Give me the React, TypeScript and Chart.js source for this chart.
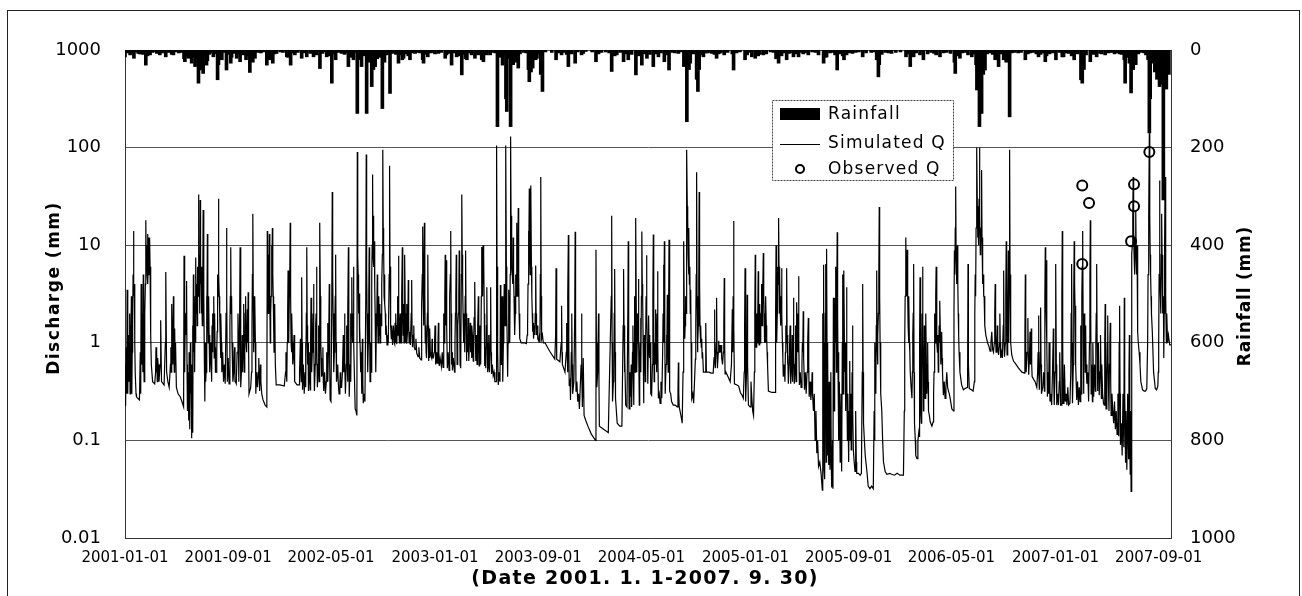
import React, { useEffect, useRef } from "react";
import { Chart, registerables } from "chart.js";

Chart.register(...registerables);

// ---------- DATA ----------
const START_DATE = "2001-01-01";
const END_DATE = "2007-09-30";
const X_TICK_LABELS = [
  "2001-01-01", "2001-09-01", "2002-05-01", "2003-01-01", "2003-09-01", "2004-05-01",
  "2005-01-01", "2005-09-01", "2006-05-01", "2007-01-01", "2007-09-01",
];
const Q_TICKS = [0.01, 0.1, 1, 10, 100, 1000];
const Q_TICK_LABELS = ["0.01", "0.1", "1", "10", "100", "1000"];
const RAIN_TICKS = [0, 200, 400, 600, 800, 1000];

// Simulated discharge (mm): [day since 2001-01-01, Q]
const SIM_SEG_1: [number, number][] = [
  [0,0.23],[1,0.6],[2,0.25],[3,0.9],[4,0.3],[5,3.5],[6,0.6],[7,0.3],[8,1.2],[9,0.4],[10,0.6],[11,2],[12,0.3],[13,1.5],[14,0.9],[15,3],[16,0.3],[17,0.8],[18,1.5],[19,5],[20,14],[21,3],[22,4],[23,1],[24,0.5],[26,0.3],[27,0.28],[30,0.27],[34,0.26],[36,0.8],[37,0.3],[38,4],[39,1],[40,0.6],[41,2],[42,0.5],[43,5],[44,1],[45,0.4],[46,1],[47,2],[48,4],[49,18],[50,6],[51,10],[52,5],[53,13],[54,4],[55,7],[56,12],[57,5],[58,12],[59,6],[60,3],[61,1.2],[62,0.6],[65,0.4],[70,0.38],[72,0.5],[73,0.9],[74,0.5],[75,0.8],[76,0.4],[77,0.7],[78,0.6],[80,0.4],[83,0.6],[84,1.7],[86,0.4],[92,0.37],[95,1],[96,5.3],[98,0.5],[101,0.4],[104,0.35],[107,0.6],[108,0.9],[109,0.5],[110,2.5],[111,0.8],[112,0.6],[113,1],[114,3],[115,0.8],[116,0.5],[117,1.4],[118,0.6],[119,1.0],[121,0.35],[125,0.3],[130,0.28],[134,0.25],[138,0.22],[139,7.8],[140,1.5],[141,0.5],[142,2],[143,1.2],[144,2],[145,4.3],[146,0.6],[147,0.2],[149,0.5],[150,0.16],[151,0.8],[152,0.5],[153,0.13],[154,1],[155,0.3],[156,0.6],[157,0.105],[158,0.4],[159,1.5],[160,0.12],[161,5],[162,0.8],[163,2],[164,0.5],[165,3],[166,1],[167,7.5],[168,2],[169,4],[170,1.5],[171,6],[172,3],[173,33],[174,3],[175,8],[176,2],[177,29],[178,4],[179,6],[180,2],[181,4],[182,1.5],[183,3],[184,23],[185,2],[186,3],[187,0.6],[188,0.25],[189,1],[190,0.4],[191,0.5],[192,3],[193,1],[194,13],[195,2],[196,1],[197,3],[198,1.2],[199,0.7],[200,0.5],[202,1],[204,0.4],[205,1.5],[206,0.8],[207,2],[208,1.4],[209,3],[210,0.7],[211,2],[212,0.9],[213,0.5],[215,0.5],[216,0.8],[217,1.3],[218,5],[219,3],[220,30],[221,5],[222,3],[223,2],[224,1.2],[225,0.7],[226,2],[227,1],[228,0.5],[230,0.8],[232,0.4],[234,0.6],[236,0.38],[238,2],[239,15],[240,3],[241,0.4],[243,0.7],[245,0.38],[247,1.5],[248,3],[249,9.5],[250,2],[251,3],[252,1],[254,0.4],[256,0.5],[258,0.9],[259,0.4],[260,0.4],[262,0.38],[264,0.8],[266,2],[267,1],[268,0.4],[270,2],[271,9.5],[272,1],[273,0.35],[275,0.6],[276,1.2],[277,0.5],[278,1],[279,2.5],[280,1],[281,0.5],[282,1],[283,2],[284,3],[285,1],[286,1.5],[287,0.8],[288,2.2],[289,1],[290,3.3],[291,1],[292,0.3],[294,0.3],[296,0.35],[298,0.5],[299,1.5],[300,5],[301,21],[302,3],[303,0.8],[304,1.5],[305,1],[306,3],[307,1],[308,0.3],[310,0.5],[312,0.35],[314,0.5],[315,0.7],[317,0.32],[319,0.6],[320,0.4],[322,0.3],[325,0.26],[330,0.23],[334,0.22],[335,14],[336,4],[337,2],[338,8],[339,3],[340,13],[341,3],[342,1],[343,2],[344,3],[345,10],[346,4],[347,15],[348,5],[349,3],[350,1.5],[351,0.8],[352,1.2],[353,2.5],[354,0.6],[356,0.37],[365,0.37],[375,0.36],[378,0.5],[379,0.8],[380,0.5],[381,0.4],[382,1],[383,2],[384,5.5],[385,2],[386,1],[387,3],[388,5],[389,17],[390,3],[391,1],[392,0.8],[393,2],[394,1],[395,0.6],[397,0.8],[398,1.2],[399,0.5],[400,0.4],[405,0.37],[410,0.37],
];
const SIM_SEG_2: [number, number][] = [
  [411,0.5],[413,1.1],[414,0.5],[415,0.4],[416,4.7],[417,1],[418,0.33],[420,0.6],[422,0.3],[424,0.5],[425,1],[426,0.35],[427,2],[428,9.5],[429,1.5],[430,0.6],[431,1],[432,0.32],[434,0.5],[435,0.8],[436,0.33],[437,1],[438,2.9],[439,1],[440,0.5],[441,0.8],[442,1.2],[443,2],[444,4],[445,1],[446,0.32],[448,0.6],[449,1.5],[450,2],[451,6],[452,1],[453,0.35],[455,0.6],[456,1.5],[457,0.4],[458,3],[459,17],[460,3],[461,1],[462,0.7],[463,0.45],[465,0.5],[466,0.9],[467,0.4],[468,0.32],[470,0.5],[472,0.3],[474,0.4],[475,0.8],[476,0.5],[477,1.6],[478,0.4],[479,0.8],[480,1.5],[481,4],[482,0.6],[483,0.26],[485,0.25],[487,3],[488,35],[489,5],[490,2],[491,1],[492,0.5],[493,0.8],[494,1.5],[495,3],[496,8],[497,1],[498,0.4],[500,0.5],[501,0.6],[502,0.4],[504,0.3],[506,0.4],[507,0.5],[508,0.35],[510,0.35],[512,0.5],[514,1.2],[515,0.5],[516,0.8],[517,2],[518,0.6],[519,0.3],[521,0.6],[522,1.5],[523,0.8],[524,0.4],[525,2],[526,9.5],[527,1],[528,0.28],[530,0.6],[531,2],[532,0.4],[533,1.5],[534,4.7],[535,1.5],[536,1],[537,2],[538,6],[539,1],[540,0.5],[542,0.21],[544,0.2],[546,0.18],[547,90],[548,8],[549,5],[550,2],[551,3.2],[552,1],[553,1.5],[554,0.8],[555,0.5],[556,0.8],[557,0.3],[558,0.5],[559,1.1],[560,0.4],[561,0.24],[563,0.3],[565,0.25],[567,3],[568,85],[569,6],[570,2],[571,1],[572,0.5],[573,1],[574,3],[575,9.5],[576,1.5],[577,0.4],[578,1],[579,0.6],[580,0.5],[581,5],[582,10],[583,53],[584,8],[585,20],[586,6],[587,11],[588,4],[589,2],[590,1],[591,0.5],[592,1.5],[593,2],[594,5],[595,2],[596,1],[597,2],[598,3],[599,1.2],[600,2.5],[601,1],[602,2],[603,1.5],[604,2],[605,4],[606,8],[607,95],[608,15],[609,10],[610,3],[611,5],[612,2.5],[613,2],[614,1.2],[615,1.5],[617,0.95],[619,1.2],[620,1],[622,5],[623,65],[624,6],[625,3],[626,1.5],[627,1.1],[628,1.5],[630,0.95],[632,1.5],[634,1],[635,0.97],[636,1.6],[637,1],[638,2],[639,1.1],[640,0.97],[641,1.5],[642,3],[643,1.2],[644,7.8],[645,2],[646,1],[647,1.5],[648,2],[649,1.2],[650,1],[651,1.8],[652,3],[653,9.5],[654,2],[655,1.2],[656,2.5],[657,1],[658,2],[659,8],[660,2],[661,1],[662,1.5],[663,2.5],[664,0.98],[666,1.5],[667,4.4],[668,1.5],[669,1],[670,1.3],[672,0.95],[674,2],[675,4.4],[676,1.2],[677,0.9],[679,1.2],[680,1.5],[681,0.9],[683,0.85],[685,1.1],[687,0.78],[690,0.72],[692,0.9],[694,0.7],[697,0.67],[698,1.2],[699,2.5],[700,5],[701,15.5],[702,3],[703,1.5],[704,4],[705,17],[706,3],[707,1],[708,1.5],[709,0.8],[710,0.7],[712,2],[713,8],[714,1.5],[715,0.65],[716,0.8],[717,0.7],[718,1.4],[719,0.8],[720,0.75],[722,0.7],[723,1.1],[724,0.7],[726,0.7],[728,0.8],[729,1],[730,1.5],[731,0.8],[732,0.6],[734,0.8],[735,0.62],[737,1],[738,1.6],[739,0.7],[740,0.58],[742,0.7],[745,0.57],[747,0.8],[749,0.56],[750,1],[751,2],[752,1],[753,3],[754,8],[755,1.5],[756,3],[757,7],[758,1.5],[759,0.55],[761,0.8],[763,0.52],[764,1.2],[765,3],[766,5],[767,14],[768,2],[769,0.6],[770,0.8],[771,0.52],[773,0.7],[776,0.5],[777,1],[778,2],[779,3],[780,8],[781,2],[782,0.6],[783,1],[784,1.5],[785,2],[786,3],[787,8.8],[788,2],[789,0.6],[790,1],[791,0.55],[792,5],[793,33],[794,8],[795,4],[796,2],[797,1],[798,1.5],[799,2],[800,0.8],[801,3],[802,8.8],[803,2],[804,0.65],[805,1],[806,1.2],[807,0.8],[808,1.8],[809,1],[810,0.65],[811,1],[812,1.2],[813,1.6],[814,0.8],[815,1.2],[816,0.7],[817,1.5],[818,1.2],[819,0.8],[820,0.65],[821,1],[822,1.8],[823,2],[824,4.2],
];
const SIM_SEG_3: [number, number][] = [
  [825,1],[826,0.65],[827,1.2],[828,0.8],[829,0.6],[830,1],[831,1.5],[832,3],[833,1],[834,0.58],[835,0.9],[836,1.5],[837,0.8],[838,0.6],[839,3],[840,9.6],[841,4],[842,3],[843,10],[844,4],[845,8],[846,2],[847,0.58],[848,0.9],[849,0.6],[850,0.55],[851,1.5],[852,3.7],[853,1],[854,0.5],[855,0.8],[856,1.2],[857,0.6],[858,0.5],[860,1.2],[861,3.7],[862,0.8],[863,0.48],[865,0.6],[867,0.46],[869,0.5],[871,0.4],[874,0.4],[875,105],[876,6],[877,3],[878,0.8],[879,0.37],[881,0.5],[883,0.4],[884,3.9],[885,1.2],[886,0.6],[887,1.5],[888,3],[889,1],[890,0.4],[891,1],[892,2],[893,4],[894,2],[895,1.5],[896,4],[897,105],[898,6],[899,2],[900,1],[901,0.45],[902,1],[903,2],[904,3.5],[905,1.5],[906,1],[907,5],[908,130],[909,20],[910,16],[911,6],[912,5],[913,4],[914,12],[915,5],[916,3],[917,2],[918,1.2],[919,2],[920,5],[921,3],[922,17],[923,5],[924,3],[925,8],[926,24],[927,5],[928,2],[929,1.5],[930,1.1],[933,1.0],[940,1.0],[945,0.98],[947,1.2],[948,1.5],[949,4],[950,14],[951,6],[952,38],[953,8],[954,5],[955,10],[956,41],[957,6],[958,3],[959,2],[960,1.3],[961,1.6],[962,1.1],[964,1.5],[965,1.2],[966,2],[967,6.2],[968,2],[969,1.2],[971,1.5],[972,1.1],[974,1.05],[976,1.2],[977,1.0],[978,5],[979,50],[980,3],[981,1.1],[983,1.2],[985,1.0],[989,1.0],[1000,0.82],[1012,0.68],[1014,1.2],[1015,5.8],[1016,1],[1017,0.68],[1024,0.64],[1027,1],[1028,2.4],[1029,0.8],[1030,0.6],[1036,0.5],[1039,0.8],[1040,1.6],[1041,0.8],[1042,0.5],[1043,3],[1044,12.7],[1045,1],[1046,0.36],[1048,0.4],[1049,0.26],[1051,0.8],[1052,2],[1053,0.6],[1054,0.3],[1057,0.4],[1059,2],[1060,13.7],[1061,1.5],[1062,0.32],[1064,0.4],[1066,0.25],[1068,0.3],[1070,0.21],[1074,0.6],[1075,2],[1076,0.5],[1077,0.22],[1079,0.7],[1081,0.18],[1085,0.16],[1090,0.14],[1098,0.116],[1108,0.1],[1109,9],[1110,1],[1111,0.35],[1113,0.5],[1115,2],[1116,0.4],[1117,0.14],[1127,0.13],[1138,0.12],[1145,3],[1146,20],[1147,1],[1148,0.25],[1150,0.4],[1151,0.5],[1152,2],[1153,5.7],[1154,0.8],[1155,0.27],[1159,0.15],[1165,0.14],[1170,0.14],[1173,1.5],[1174,5.7],[1175,1.5],[1176,0.5],[1177,0.8],[1179,0.23],[1182,0.22],[1184,2],[1185,11],[1186,1],[1187,0.21],[1189,0.5],[1190,0.28],[1192,0.6],[1193,0.22],[1195,0.8],[1196,1.5],[1197,0.5],[1198,0.23],[1199,1],[1200,3],[1201,0.5],[1202,4],[1203,19],[1204,2],[1205,0.5],[1206,1],[1207,2],[1208,1],[1209,4.5],[1210,1],[1211,0.23],[1212,0.6],[1213,1],[1214,1.8],[1215,0.5],[1216,3],[1217,13.8],[1218,4],[1219,2.8],[1220,1],[1221,0.24],[1222,0.6],[1223,1.2],[1224,0.6],[1225,0.4],[1226,1],[1227,3],[1228,7.9],[1229,2],[1230,1],[1231,0.38],[1232,0.8],[1233,1.9],[1234,0.8],[1235,1.2],[1236,0.7],
];
const SIM_SEG_4: [number, number][] = [
  [1237,1],[1238,0.3],[1240,0.29],[1242,0.6],[1243,3],[1244,12.9],[1245,1.5],[1246,0.4],[1247,0.7],[1248,1],[1249,0.6],[1250,2.2],[1251,0.8],[1252,0.5],[1253,2],[1254,5.4],[1255,1],[1256,0.27],[1258,0.3],[1260,0.24],[1262,0.4],[1264,0.27],[1266,0.8],[1267,2],[1268,6.3],[1269,1],[1270,11],[1271,1.5],[1272,0.3],[1274,0.6],[1275,1.2],[1276,0.6],[1277,3.1],[1278,1],[1279,0.5],[1280,2],[1281,11.4],[1282,1.5],[1283,0.32],[1285,0.3],[1287,0.25],[1291,0.23],[1296,0.23],[1300,0.22],[1302,0.3],[1303,0.63],[1304,0.3],[1305,0.22],[1309,0.18],[1312,0.15],[1314,0.5],[1315,2],[1316,11],[1317,2],[1318,1.1],[1319,1.5],[1320,3],[1321,2],[1322,6],[1323,95],[1324,25],[1325,19],[1326,8],[1327,5],[1328,15],[1329,4],[1330,6],[1331,2],[1332,3.5],[1333,1],[1334,0.5],[1335,0.27],[1337,0.3],[1339,0.24],[1341,0.4],[1343,0.68],[1344,1.5],[1345,5],[1346,56],[1347,3],[1348,0.8],[1349,1],[1350,1.5],[1351,4],[1352,35],[1353,4],[1354,1.4],[1355,1],[1356,1.5],[1357,0.9],[1358,1.1],[1359,0.7],[1360,0.8],[1362,0.5],[1366,0.5],[1367,0.7],[1368,1.6],[1369,0.5],[1375,0.5],[1380,0.49],[1385,0.49],[1387,0.7],[1388,2.2],[1389,0.7],[1390,0.55],[1392,1],[1393,2.9],[1394,0.8],[1395,0.55],[1397,0.8],[1398,1.05],[1399,0.8],[1401,0.95],[1402,0.8],[1404,0.95],[1405,0.7],[1407,0.6],[1409,0.8],[1410,1.5],[1411,4.6],[1412,1],[1413,0.48],[1415,0.5],[1420,0.45],[1425,0.4],[1428,0.6],[1430,2.2],[1431,0.8],[1432,3],[1433,17.7],[1434,1.5],[1435,0.38],[1441,0.37],[1445,0.36],[1449,0.31],[1453,0.29],[1456,0.27],[1458,0.5],[1459,1.5],[1460,5.8],[1461,0.8],[1462,0.25],[1464,0.6],[1465,3.1],[1466,0.6],[1468,0.23],[1472,0.22],[1474,0.4],[1476,0.27],[1478,0.2],[1480,0.18],[1482,0.5],[1483,2],[1484,8],[1485,2],[1486,0.9],[1487,1.2],[1488,2],[1489,1],[1490,2],[1491,5.4],[1492,1.5],[1493,0.95],[1494,1.5],[1495,2.5],[1496,1],[1497,1.5],[1498,2],[1499,4],[1500,1.5],[1501,3.3],[1502,3],[1503,8.3],[1504,3],[1505,2],[1506,1],[1507,1.6],[1508,1],[1509,3],[1510,1.5],[1511,1.1],[1512,0.8],[1513,0.6],[1515,0.32],[1523,0.31],[1531,0.31],[1532,2],[1533,10],[1534,3],[1535,1],[1536,2],[1537,6],[1538,4],[1539,19],[1540,6],[1541,2],[1542,5],[1543,2],[1544,1.5],[1545,3],[1546,5.8],[1547,2],[1548,1],[1549,0.7],[1550,0.45],[1552,0.6],[1554,0.4],[1555,0.8],[1556,1.5],[1557,1],[1558,5.8],[1559,1.2],[1560,0.6],[1561,0.8],[1562,0.38],[1564,0.6],[1566,1.5],[1567,0.6],[1568,0.38],[1570,0.6],[1571,1.2],[1572,0.4],[1573,1],[1574,2.9],[1575,0.8],[1576,0.38],[1578,0.6],[1579,1.5],[1580,0.4],[1581,1],[1582,2.6],[1583,1.2],[1584,0.8],[1585,2],[1586,4.8],[1587,1],[1588,0.37],[1590,0.5],[1592,0.35],[1594,0.6],[1595,1],[1596,0.8],[1597,2.1],[1598,0.7],[1600,0.33],[1602,0.5],[1604,0.3],[1606,0.5],[1607,0.8],[1608,1],[1609,1.8],[1610,0.6],[1611,0.28],[1613,0.4],[1615,0.26],[1617,0.35],[1618,0.5],[1619,0.3],[1621,0.2],[1623,0.3],[1625,0.1],[1627,0.2],[1629,0.074],[1631,0.1],[1633,0.054],[1636,0.06],[1639,0.046],[1642,0.031],[1643,2],[1644,1],[1645,6.3],
];
const SIM_SEG_5: [number, number][] = [
  [1646,0.05],[1647,1],[1648,0.04],[1649,2],[1650,6.4],[1651,0.06],[1652,9.2],[1653,1],[1654,0.07],[1655,0.8],[1656,0.1],[1657,0.056],[1658,0.4],[1660,0.05],[1661,0.2],[1662,0.5],[1663,0.06],[1664,0.033],[1666,0.1],[1667,0.032],[1668,2.9],[1669,0.5],[1670,0.2],[1671,1],[1672,2.9],[1673,1],[1674,6],[1675,0.5],[1676,3],[1677,13.6],[1678,2],[1679,0.5],[1680,0.8],[1681,0.1],[1682,0.4],[1684,0.06],[1685,0.15],[1686,0.3],[1687,0.1],[1688,0.048],[1689,1],[1690,5],[1691,0.3],[1692,2],[1693,5.5],[1694,1],[1695,0.5],[1696,1],[1697,0.2],[1698,1],[1699,3.7],[1700,0.5],[1701,0.1],[1702,0.3],[1704,0.06],[1705,0.2],[1706,0.1],[1707,0.65],[1708,0.1],[1709,0.3],[1710,0.08],[1711,0.1],[1712,0.5],[1713,1.5],[1714,0.2],[1715,0.08],[1717,0.06],[1719,0.048],[1720,0.08],[1721,0.2],[1722,0.06],[1723,0.046],[1727,0.046],[1731,0.044],[1734,0.046],[1736,0.5],[1737,4],[1738,0.5],[1739,0.15],[1741,0.1],[1743,0.07],[1747,0.048],[1750,0.034],[1754,0.032],[1758,0.034],[1762,0.032],[1764,0.2],[1765,0.1],[1766,1],[1767,0.4],[1768,0.3],[1769,1.5],[1770,5.5],[1771,1],[1772,0.6],[1773,1.2],[1774,2],[1775,5],[1776,24.6],[1777,3],[1778,1],[1779,0.5],[1780,0.3],[1782,0.2],[1784,0.1],[1786,0.06],[1790,0.048],[1794,0.045],[1801,0.046],[1805,0.045],[1812,0.044],[1818,0.046],[1825,0.044],[1833,0.044],[1835,0.2],[1836,1],[1837,3],[1838,5],[1839,12],[1840,4],[1841,3],[1842,9],[1843,3],[1844,1.5],[1845,1],[1846,3],[1847,1],[1848,0.8],[1849,0.5],[1851,0.35],[1853,0.27],[1854,0.5],[1855,1.2],[1856,2],[1857,6.4],[1858,0.5],[1859,0.15],[1861,0.1],[1862,0.07],[1865,0.065],[1867,0.1],[1869,0.12],[1870,0.11],[1871,1],[1872,4.7],[1873,0.6],[1874,0.2],[1875,0.15],[1876,0.5],[1877,2],[1878,6],[1879,1],[1880,0.2],[1881,0.5],[1882,1.5],[1883,0.6],[1884,0.27],[1885,0.6],[1886,2],[1887,0.6],[1888,0.3],[1889,0.5],[1890,1],[1891,0.4],[1892,0.2],[1894,0.18],[1896,0.155],[1900,0.14],[1903,0.155],[1904,0.3],[1905,0.5],[1906,1],[1907,2],[1908,1],[1909,3],[1910,6],[1911,2],[1912,1],[1913,0.8],[1914,1.2],[1915,0.5],[1916,0.8],[1917,1.5],[1918,1],[1919,2.7],[1920,1.2],[1921,0.6],[1922,0.9],[1923,1.3],[1924,0.7],[1925,0.5],[1927,0.29],[1929,0.4],[1931,0.27],[1933,0.35],[1935,0.5],[1937,0.35],[1939,0.32],[1941,0.3],[1943,0.27],[1947,0.21],[1951,0.2],[1952,2],[1953,8.8],[1954,5],[1955,15],[1956,40],[1957,8],[1958,4],[1959,6],[1960,10],[1961,4],[1962,2],[1963,1.2],[1964,0.8],[1966,0.5],[1970,0.37],[1974,0.33],[1978,0.34],[1984,0.35],[1985,6.4],[1986,0.6],[1988,0.34],[1993,0.33],[1997,0.32],[2000,0.4],[2001,2],[2002,5],[2003,3],[2004,15],[2005,20],[2006,100],[2007,25],[2008,12],[2009,14],[2010,10],[2011,30],[2012,100],[2013,20],[2014,8],[2015,10],[2016,15],[2017,59],[2018,12],[2019,8],[2020,4],[2021,5],[2022,3],[2023,3],[2024,2],[2025,1.5],[2027,1.2],[2029,1.1],[2031,1],[2033,0.95],[2035,0.9],[2037,0.82],[2039,1],[2041,1.3],[2043,0.85],[2045,0.8],[2047,1],[2048,2],[2049,4],[2050,1.2],[2051,0.8],[2053,1],[2054,1.5],[2055,0.9],[2057,0.75],
];
const SIM_SEG_6: [number, number][] = [
  [2059,1],[2060,2],[2061,1],[2062,0.7],[2064,0.8],[2066,0.7],[2068,1.5],[2069,5.5],[2070,1],[2071,0.72],[2073,1],[2074,3],[2075,11],[2076,2],[2077,0.75],[2078,1],[2079,2],[2080,8.8],[2081,1],[2082,8],[2083,95],[2084,5],[2085,1.3],[2086,1],[2088,0.75],[2092,0.65],[2096,0.62],[2104,0.55],[2112,0.5],[2118,0.49],[2119,1.2],[2120,5],[2121,0.8],[2122,0.5],[2124,0.8],[2126,1.8],[2127,0.7],[2128,0.47],[2130,0.8],[2131,1.3],[2132,0.6],[2134,1.4],[2135,0.6],[2136,0.45],[2140,0.42],[2143,0.4],[2147,0.35],[2149,0.5],[2150,0.8],[2151,1.9],[2152,0.5],[2153,0.33],[2155,0.8],[2156,2.3],[2157,0.6],[2158,0.3],[2161,0.35],[2163,0.5],[2165,0.32],[2166,3],[2167,9.5],[2168,3],[2169,2],[2170,7],[2171,1],[2172,0.28],[2174,0.5],[2175,0.3],[2176,1],[2178,0.25],[2180,0.3],[2182,0.23],[2184,0.5],[2186,1.4],[2187,0.4],[2188,0.23],[2190,0.5],[2191,2],[2192,6.4],[2193,0.6],[2194,0.23],[2196,0.3],[2198,0.23],[2200,0.4],[2201,0.8],[2203,0.23],[2205,0.23],[2206,3],[2207,14],[2208,1],[2209,0.24],[2211,0.3],[2212,0.6],[2214,0.25],[2216,0.3],[2218,0.23],[2220,0.35],[2222,0.23],[2225,0.24],[2227,0.5],[2228,2],[2229,6.4],[2230,1],[2231,0.24],[2233,0.6],[2234,3],[2235,11],[2236,4],[2237,2.4],[2238,1],[2239,0.6],[2241,0.26],[2243,0.4],[2245,0.23],[2247,0.35],[2249,0.25],[2250,0.6],[2251,1.5],[2252,0.3],[2253,3],[2254,6],[2255,14],[2256,2],[2257,0.3],[2258,1],[2259,2],[2260,1],[2261,0.5],[2262,1.5],[2263,0.6],[2265,0.38],[2267,0.5],[2269,0.25],[2271,1],[2272,4],[2273,18],[2274,2],[2275,0.3],[2276,0.6],[2278,0.25],[2279,1],[2280,0.5],[2281,0.28],[2283,0.6],[2285,0.32],[2286,1],[2287,2],[2288,6.4],[2289,1],[2290,0.32],[2291,0.6],[2292,1],[2294,0.29],[2296,0.5],[2297,1.2],[2299,0.27],[2300,0.6],[2302,0.3],[2304,0.24],[2306,0.23],[2307,1],[2308,2.5],[2309,0.6],[2310,0.21],[2312,0.5],[2313,1],[2314,1.9],[2315,0.5],[2317,0.2],[2318,0.6],[2319,1],[2320,1.6],[2321,0.4],[2322,0.18],[2324,0.3],[2326,0.2],[2328,0.15],[2330,0.25],[2332,0.13],[2334,0.2],[2336,0.115],[2338,0.3],[2340,0.11],[2341,1],[2342,2.4],[2343,0.3],[2344,0.09],[2346,0.15],[2348,0.07],[2350,0.3],[2352,0.085],[2353,2.9],[2354,0.3],[2356,0.06],[2357,0.2],[2359,0.05],[2361,0.3],[2363,0.065],[2364,0.5],[2365,1.2],[2366,0.1],[2367,0.045],[2368,0.2],[2369,0.03],[2370,3],[2371,8.1],[2372,10],[2373,20],[2374,50],[2375,15],[2376,8],[2377,12],[2378,5],[2379,10],[2380,23],[2381,8],[2382,5],[2383,10],[2384,3],[2385,1.3],[2386,1],[2388,0.8],[2390,0.6],[2392,0.4],[2396,0.33],[2400,0.32],[2403,0.32],[2406,0.34],[2408,1],[2409,5],[2410,7.5],[2411,20],[2412,140],[2413,20],[2414,8],[2415,5],[2416,3],[2417,2],[2419,1.3],[2422,0.5],[2426,0.34],[2429,0.33],[2432,0.36],[2433,0.5],[2434,1],[2435,5],[2436,46],[2437,5],[2438,3],[2439,2],[2440,8],[2441,21],[2442,8],[2443,5],[2444,2],[2445,3],[2446,0.7],[2447,2],[2448,10],[2449,50],[2450,10],[2451,3],[2452,1],[2453,2],[2455,1],[2457,1.2],[2460,0.95],[2463,0.95],
];

// Daily rainfall (mm): [day since 2001-01-01, rain]
const RAIN_SEG_1: [number, number][] = [
  [0,14],[12,10],[21,17],[31,7],[38,8],[43,9],[49,31],[53,12],[59,10],[75,7],[82,10],[96,14],[110,9],[114,10],[139,18],[141,24],[145,12],[149,17],[157,27],[161,14],[165,34],[167,20],[173,68],[177,41],[181,20],[184,48],[192,31],[194,22],[208,14],[212,8],[218,61],[220,30],[228,20],[239,41],[249,27],[251,15],[263,17],[271,24],[279,10],[285,20],[290,12],[294,46],[301,25],[306,17],[320,6],[334,31],[340,20],[342,15],[348,27],[357,7],[381,14],[384,15],[390,31],[400,10],
];
const RAIN_SEG_2: [number, number][] = [
  [416,17],[428,14],[436,7],[444,14],[451,10],[459,38],[475,14],[481,12],[487,68],[496,20],[510,7],[517,9],[526,34],[534,15],[538,20],[547,130],[551,20],[557,34],[561,12],[569,130],[575,25],[581,75],[585,40],[589,34],[594,18],[600,15],[606,120],[611,25],[616,10],[624,89],[644,27],[653,20],[656,17],[667,12],[671,20],[683,7],[701,20],[703,27],[713,14],[730,8],[738,7],[754,17],[757,10],[769,31],[781,14],[787,12],[793,51],[802,18],[805,20],[816,10],
];
const RAIN_SEG_3: [number, number][] = [
  [824,17],[832,10],[840,20],[844,24],[852,10],[860,10],[877,157],[884,15],[889,31],[897,100],[899,126],[904,18],[908,157],[914,30],[918,24],[922,25],[926,37],[950,40],[952,65],[956,45],[960,37],[967,20],[970,17],[979,50],[983,85],[1015,20],[1028,10],[1040,9],[1044,34],[1052,8],[1060,27],[1075,10],[1079,7],[1109,24],[1115,8],[1146,44],[1153,12],[1158,10],[1174,24],[1185,20],[1203,51],[1209,12],[1217,31],[1229,17],
];
const RAIN_SEG_4: [number, number][] = [
  [1244,34],[1250,8],[1256,14],[1270,24],[1277,10],[1281,41],[1303,7],[1316,34],[1323,147],[1328,40],[1331,27],[1346,60],[1349,85],[1352,40],[1362,14],[1368,6],[1382,7],[1388,9],[1393,17],[1411,10],[1430,8],[1433,41],[1460,20],[1465,10],[1476,14],[1484,17],[1491,12],[1503,10],[1533,18],[1539,27],[1546,12],[1558,20],[1566,6],[1574,14],[1586,14],[1597,8],[1609,10],[1633,10],[1645,27],
];
const RAIN_SEG_5: [number, number][] = [
  [1650,15],[1652,14],[1672,10],[1677,41],[1690,12],[1693,20],[1699,10],[1713,7],[1737,14],[1770,20],[1774,55],[1776,30],[1805,7],[1839,14],[1849,34],[1857,14],[1872,10],[1880,20],[1910,10],[1919,14],[1953,25],[1955,48],[1966,17],[1985,10],[1994,14],[2004,30],[2006,82],[2012,157],[2017,130],[2021,50],[2025,41],[2049,20],
];
const RAIN_SEG_6: [number, number][] = [
  [2057,34],[2069,20],[2075,25],[2080,20],[2083,137],[2120,20],[2126,8],[2151,14],[2156,9],[2167,24],[2170,12],[2192,20],[2207,14],[2210,14],[2229,12],[2235,20],[2251,61],[2254,68],[2258,40],[2273,24],[2288,14],[2308,10],[2342,8],[2353,20],[2355,68],[2365,27],[2369,88],[2374,40],[2380,30],[2409,20],[2412,170],[2414,100],[2420,27],[2425,45],[2430,60],[2436,75],[2441,70],[2445,307],[2449,60],[2452,80],[2455,40],[2458,50],
];
const RAIN_LIGHT: [number, number][] = [
  [5,6],[17,5],[27,4],[35,8],[64,5],[70,4],[88,6],[103,5],[120,4],[127,6],[133,5],[152,8],[170,12],[187,10],[198,9],[203,6],[224,8],[233,5],[244,9],[257,7],[267,8],[276,6],[288,9],[312,5],[326,4],[352,8],[366,4],[372,5],[395,6],[407,5],[422,6],[448,5],[465,7],[470,4],[492,8],[503,5],[521,6],[531,8],[543,5],[565,9],[578,12],[597,10],[620,8],[630,7],[638,9],[648,10],[661,8],[676,6],[690,5],[695,6],[708,9],[720,6],[725,5],[745,5],[762,7],[775,6],[797,9],[810,6],[828,8],[848,9],[856,6],[866,5],[872,6],[892,10],[913,12],[930,8],[938,5],[945,6],[964,7],[975,8],[990,4],[1005,5],[1020,6],[1035,5],[1048,6],[1066,4],[1085,3],[1100,4],[1122,5],[1132,4],[1140,6],[1166,5],[1180,8],[1193,9],[1213,10],[1222,8],[1236,9],[1262,6],[1289,5],[1295,6],[1310,4],[1338,8],[1357,10],[1372,6],[1377,5],[1398,8],[1403,6],[1419,5],[1440,6],[1448,4],[1470,5],[1495,9],[1510,8],[1520,4],[1527,5],[1552,6],[1563,7],[1580,8],[1592,5],[1603,6],[1618,4],[1626,5],[1660,6],[1666,5],[1684,8],[1705,6],[1720,5],[1728,4],[1745,6],[1757,5],[1762,4],[1782,9],[1790,5],[1798,6],[1815,5],[1826,4],[1845,8],[1863,6],[1890,8],[1898,5],[1905,7],[1927,6],[1935,5],[1944,7],[1960,12],[1972,6],[1980,5],[1998,8],[2030,8],[2038,6],[2043,9],[2063,8],[2088,6],[2095,5],[2103,6],[2110,5],[2132,6],[2140,5],[2146,8],[2160,6],[2177,8],[2185,6],[2200,5],[2217,6],[2222,7],[2243,8],[2263,10],[2280,9],[2296,7],[2300,8],[2316,6],[2323,5],[2330,8],[2337,6],[2347,9],[2360,15],[2386,8],[2393,5],[2400,6],[2404,10],
];

// Observed discharge
const OBS_DAYS = [2254, 2254, 2270, 2369, 2376, 2376, 2412];
const OBS_Q = [41, 6.4, 27, 11, 42, 25, 90];

// ---------- HELPERS ----------
const DAY_MS = 86400000;
const dayOf = (s: string) =>
  Math.round((Date.parse(s + "T00:00:00Z") - Date.parse(START_DATE + "T00:00:00Z")) / DAY_MS);
const X_TICK_DAYS = X_TICK_LABELS.map(dayOf);
const MAX_DAY = dayOf(END_DATE);

const SIM_ALL = [...SIM_SEG_1, ...SIM_SEG_2, ...SIM_SEG_3, ...SIM_SEG_4, ...SIM_SEG_5, ...SIM_SEG_6];
const RAIN_ALL = [...RAIN_LIGHT, ...RAIN_SEG_1, ...RAIN_SEG_2, ...RAIN_SEG_3, ...RAIN_SEG_4, ...RAIN_SEG_5, ...RAIN_SEG_6];

const FONT = '"DejaVu Sans", "Liberation Sans", sans-serif';

const overlayPlugin = {
  id: "overlayTexts",
  afterDraw(chart: any) {
    const ctx: CanvasRenderingContext2D = chart.ctx;
    const a = chart.chartArea;
    ctx.save();
    ctx.fillStyle = "#000";
    ctx.textAlign = "center";
    ctx.textBaseline = "middle";
    // axis titles
    ctx.font = `bold 17px ${FONT}`;
    (ctx as any).letterSpacing = "1.5px";
    ctx.save();
    ctx.translate(47, (a.top + a.bottom) / 2 - 6);
    ctx.rotate(-Math.PI / 2);
    ctx.fillText("Discharge (mm)", 0, 0);
    ctx.restore();
    (ctx as any).letterSpacing = "0.8px";
    ctx.save();
    ctx.translate(1238, (a.top + a.bottom) / 2 + 2);
    ctx.rotate(-Math.PI / 2);
    ctx.fillText("Rainfall (mm)", 0, 0);
    ctx.restore();
    ctx.font = `bold 19px ${FONT}`;
    (ctx as any).letterSpacing = "1.3px";
    ctx.fillText("(Date 2001. 1. 1-2007. 9. 30)", (a.left + a.right) / 2 - 3, 571);

    // legend
    const lx = 764, ly = 92, lw = 181, lh = 80;
    ctx.fillStyle = "#fff";
    ctx.fillRect(lx, ly, lw, lh);
    ctx.strokeStyle = "#444";
    ctx.lineWidth = 1;
    ctx.setLineDash([2, 1]);
    ctx.strokeRect(lx + 0.5, ly + 0.5, lw, lh);
    ctx.setLineDash([]);
    ctx.fillStyle = "#000";
    ctx.fillRect(772, 100, 40, 12);
    ctx.beginPath();
    ctx.moveTo(772, 136.5);
    ctx.lineTo(812, 136.5);
    ctx.strokeStyle = "#000";
    ctx.stroke();
    ctx.beginPath();
    ctx.arc(792, 161, 4, 0, Math.PI * 2);
    ctx.lineWidth = 2;
    ctx.stroke();
    ctx.font = `17px ${FONT}`;
    (ctx as any).letterSpacing = "1.2px";
    ctx.textAlign = "left";
    ctx.fillText("Rainfall", 820, 107);
    ctx.fillText("Simulated Q", 820, 136);
    ctx.fillText("Observed Q", 820, 162);
    ctx.restore();
  },
};

export default function App() {
  const ref = useRef<HTMLCanvasElement | null>(null);

  useEffect(() => {
    if (!ref.current) return;
    Chart.defaults.font.family = FONT;
    Chart.defaults.color = "#000";
    const chart = new Chart(ref.current, {
      type: "bar",
      data: {
        datasets: [
          {
            type: "bar",
            label: "Rainfall",
            data: RAIN_ALL.map(([d, r]) => ({ x: d, y: r })),
            xAxisID: "x",
            yAxisID: "y2",
            backgroundColor: "#000",
            borderWidth: 0,
            barThickness: 3,
            grouped: false,
            order: 3,
          } as any,
          {
            type: "line",
            label: "Simulated Q",
            data: SIM_ALL.map(([d, q]) => ({ x: d, y: q })),
            xAxisID: "x",
            yAxisID: "y",
            borderColor: "#000",
            borderWidth: 1.2,
            pointRadius: 0,
            tension: 0,
            fill: false,
            order: 2,
          } as any,
          {
            type: "line",
            label: "Observed Q",
            data: OBS_DAYS.map((d, i) => ({ x: d, y: OBS_Q[i] })),
            xAxisID: "x",
            yAxisID: "y",
            showLine: false,
            pointRadius: 5,
            pointBorderWidth: 2,
            pointBorderColor: "#000",
            pointBackgroundColor: "rgba(0,0,0,0)",
            order: 1,
          } as any,
        ],
      },
      options: {
        animation: false,
        responsive: false,
        maintainAspectRatio: false,
        layout: { padding: { top: 42, left: 0, right: 0, bottom: 0 } },
        plugins: { legend: { display: false }, tooltip: { enabled: false } },
        scales: {
          x: {
            type: "linear",
            min: 0,
            max: MAX_DAY,
            offset: false,
            grid: { display: false, drawTicks: false, offset: false },
            border: { display: true, color: "#333", width: 1 },
            afterBuildTicks: (s: any) => {
              s.ticks = X_TICK_DAYS.map((v) => ({ value: v }));
            },
            ticks: {
              autoSkip: false,
              maxRotation: 0,
              minRotation: 0,
              padding: 11,
              font: { size: 15, family: FONT },
              callback: (_v: any, i: number) => X_TICK_LABELS[i],
            },
            afterFit: (s: any) => {
              s.height = 50;
            },
          },
          y: {
            type: "logarithmic",
            position: "left",
            min: 0.01,
            max: 1000,
            afterBuildTicks: (s: any) => {
              s.ticks = Q_TICKS.map((v) => ({ value: v }));
            },
            grid: { color: "#555", lineWidth: 1, drawTicks: false },
            border: { display: true, color: "#333", width: 1 },
            ticks: {
              padding: 24,
              font: { size: 18, family: FONT },
              callback: (_v: any, i: number) => Q_TICK_LABELS[i],
            },
            afterFit: (s: any) => {
              s.width = 117;
            },
          },
          y2: {
            type: "linear",
            position: "right",
            min: 0,
            max: 1000,
            reverse: true,
            afterBuildTicks: (s: any) => {
              s.ticks = RAIN_TICKS.map((v) => ({ value: v }));
            },
            grid: { display: false, drawTicks: false },
            border: { display: true, color: "#333", width: 1 },
            ticks: {
              padding: 19,
              font: { size: 18, family: FONT },
              callback: (v: any) => String(v),
            },
            afterFit: (s: any) => {
              s.width = 123;
            },
          },
        },
      } as any,
      plugins: [overlayPlugin],
    });
    return () => chart.destroy();
  }, []);

  return (
    <div style={{ position: "relative", width: 1286, height: 580 }}>
      <div
        style={{
          position: "fixed",
          left: 7,
          top: 10,
          width: 1293,
          height: 700,
          border: "1px solid #222",
          boxSizing: "border-box",
          pointerEvents: "none",
        }}
      />
      <canvas ref={ref} width={1286} height={580} style={{ display: "block" }} />
    </div>
  );
}
